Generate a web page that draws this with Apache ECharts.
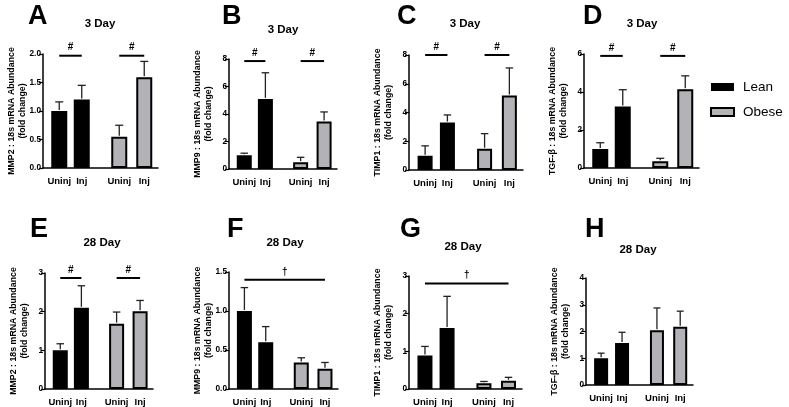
<!DOCTYPE html>
<html>
<head>
<meta charset="utf-8">
<script src="https://cdn.jsdelivr.net/npm/echarts@6/dist/echarts.min.js"></script>
<style>html,body{margin:0;padding:0;background:#fff}#chart{width:789px;height:407px}</style>
</head>
<body>
<div id="chart"></div>
<script>
// ---------- data ----------
const groupLabels = ['Uninj', 'Inj', 'Uninj', 'Inj'];
const groups = ['Lean', 'Lean', 'Obese', 'Obese'];
const panelLetters = ['A', 'B', 'C', 'D', 'E', 'F', 'G', 'H'];
const panelTitles = ['3 Day', '3 Day', '3 Day', '3 Day', '28 Day', '28 Day', '28 Day', '28 Day'];
const yTitles = [
  'MMP2 : 18s mRNA Abundance', 'MMP9 : 18s mRNA Abundance', 'TIMP1 : 18s mRNA Abundance', 'TGF-β : 18s mRNA Abundance',
  'MMP2 : 18s mRNA Abundance', 'MMP9 : 18s mRNA Abundance', 'TIMP1 : 18s mRNA Abundance', 'TGF-β : 18s mRNA Abundance'
];
const yUnit = '(fold change)';
// mean values [Lean Uninj, Lean Inj, Obese Uninj, Obese Inj]
const mmp2Day3 = [1.0, 1.2, 0.55, 1.59];
const mmp9Day3 = [1.0, 5.1, 0.5, 3.45];
const timp1Day3 = [1.0, 3.3, 1.48, 5.18];
const tgfbDay3 = [1.0, 3.24, 0.36, 4.15];
const mmp2Day28 = [1.0, 2.1, 1.69, 2.01];
const mmp9Day28 = [1.0, 0.6, 0.34, 0.26];
const timp1Day28 = [0.89, 1.62, 0.15, 0.22];
const tgfbDay28 = [1.0, 1.57, 2.05, 2.18];
// upper end of error bars (mean + SEM)
const mmp2Day3Err = [1.16, 1.45, 0.75, 1.87];
const mmp9Day3Err = [1.15, 7.0, 0.85, 4.15];
const timp1Day3Err = [1.68, 3.83, 2.53, 7.1];
const tgfbDay3Err = [1.33, 4.12, 0.51, 4.85];
const mmp2Day28Err = [1.17, 2.67, 1.99, 2.29];
const mmp9Day28Err = [1.3, 0.8, 0.4, 0.34];
const timp1Day28Err = [1.13, 2.46, 0.2, 0.31];
const tgfbDay28Err = [1.19, 1.97, 2.88, 2.76];
// y axis ranges
const yMax = [2, 8, 8, 6, 3, 1.5, 3, 4];
const yStep = [0.5, 2, 2, 2, 1, 0.5, 1, 1];
const yDecimals = [1, 0, 0, 0, 0, 1, 0, 0];
// significance brackets: [fromBar, toBar, yLevel, symbol]
const sigA = [[0, 1, 1.97, '#'], [2, 3, 1.97, '#']];
const sigB = [[0, 1, 7.85, '#'], [2, 3, 7.85, '#']];
const sigC = [[0, 1, 8.0, '#'], [2, 3, 8.0, '#']];
const sigD = [[0, 1, 5.9, '#'], [2, 3, 5.9, '#']];
const sigE = [[0, 1, 2.87, '#'], [2, 3, 2.87, '#']];
const sigF = [[0, 3, 1.4, '†']];
const sigG = [[0, 3, 2.8, '†']];
const sigH = [];

const means = [mmp2Day3, mmp9Day3, timp1Day3, tgfbDay3, mmp2Day28, mmp9Day28, timp1Day28, tgfbDay28];
const errs = [mmp2Day3Err, mmp9Day3Err, timp1Day3Err, tgfbDay3Err, mmp2Day28Err, mmp9Day28Err, timp1Day28Err, tgfbDay28Err];
const sigs = [sigA, sigB, sigC, sigD, sigE, sigF, sigG, sigH];

// ---------- layout ----------
const grids = [
  {left: 43, top: 54, width: 115, height: 114},
  {left: 229, top: 59, width: 108, height: 110},
  {left: 409, top: 55, width: 114, height: 115},
  {left: 584, top: 54, width: 115, height: 114},
  {left: 45, top: 273, width: 108, height: 116},
  {left: 229, top: 272, width: 109, height: 117},
  {left: 409, top: 276, width: 113, height: 114},
  {left: 586, top: 278, width: 107, height: 107}
];
const letterPos = [[28, 15], [222, 15], [397, 15], [583, 15], [30, 228], [227, 228], [400, 228], [585, 228]];
const titlePos = [[100, 24], [283, 30], [465, 24], [642, 24], [102, 243], [285, 243], [463, 247], [638, 250]];
const NSLOT = 46;
const barSlots = [6, 15, 30, 40];

const FONT = 'Liberation Sans, Arial, sans-serif';
const LEAN = '#000000';
const OBESE = '#b3b3b7';

const slotNames = Array.from({length: NSLOT}, (_, i) => String(i));

const option = {
  animation: false,
  backgroundColor: '#fff',
  textStyle: {fontFamily: FONT},
  grid: [], xAxis: [], yAxis: [], series: [],
  legend: {
    orient: 'vertical', left: 710, top: 80, padding: 0, itemGap: 11, itemWidth: 23, itemHeight: 8,
    icon: 'rect',
    textStyle: {fontFamily: FONT, fontSize: 13.5, color: '#000', padding: [0, 0, 0, 4]},
    data: [
      {name: 'Lean', itemStyle: {color: LEAN, borderColor: '#000', borderWidth: 0}},
      {name: 'Obese', itemStyle: {color: OBESE, borderColor: '#000', borderWidth: 2}}
    ]
  },
  graphic: []
};

for (let p = 0; p < 8; p++) {
  const g = grids[p];
  option.grid.push({left: g.left, top: g.top, width: g.width, height: g.height, containLabel: false});
  option.xAxis.push({
    type: 'category', gridIndex: p, data: slotNames,
    axisLine: {lineStyle: {color: '#000', width: 1.5}},
    axisTick: {alignWithLabel: true, length: 4, lineStyle: {color: '#000', width: 1.2},
      interval: (i) => barSlots.indexOf(i) >= 0},
    axisLabel: {interval: 0, margin: 8, fontSize: 9.5, fontWeight: 'bold', color: '#000', fontFamily: FONT,
      formatter: (v, i) => { const k = barSlots.indexOf(Number(v)); return k >= 0 ? groupLabels[k] : ''; }},
    splitLine: {show: false}
  });
  const dec = yDecimals[p];
  option.yAxis.push({
    type: 'value', gridIndex: p, min: 0, max: yMax[p], interval: yStep[p],
    name: yTitles[p] + '\n' + yUnit, nameLocation: 'middle', nameRotate: 90, nameGap: 15,
    nameMoveOverlap: false,
    nameTextStyle: {fontSize: 8.8, fontWeight: 'bold', color: '#000', fontFamily: FONT, lineHeight: 11},
    axisLine: {show: true, lineStyle: {color: '#000', width: 1.5}},
    axisTick: {show: true, length: 4, lineStyle: {color: '#000', width: 1.2}},
    axisLabel: {margin: 2, fontSize: 8.3, fontWeight: 'bold', color: '#000', fontFamily: FONT,
      formatter: (v) => v.toFixed(dec)},
    splitLine: {show: false}
  });
  const bw = Math.round(g.width * 0.135);
  const leanData = Array(NSLOT).fill('-');
  const obeseData = Array(NSLOT).fill('-');
  means[p].forEach((v, k) => { (groups[k] === 'Lean' ? leanData : obeseData)[barSlots[k]] = v; });
  option.series.push({
    name: 'Lean', type: 'bar', xAxisIndex: p, yAxisIndex: p, data: leanData,
    barWidth: bw, barGap: '-100%',
    itemStyle: {color: LEAN, borderColor: '#000', borderWidth: 1.5}, z: 2
  });
  option.series.push({
    name: 'Obese', type: 'bar', xAxisIndex: p, yAxisIndex: p, data: obeseData,
    barWidth: bw, barGap: '-100%',
    itemStyle: {color: OBESE, borderColor: '#000', borderWidth: 2}, z: 2
  });
  const capHalf = bw / 4;
  option.series.push({
    type: 'custom', xAxisIndex: p, yAxisIndex: p, z: 3, silent: true,
    data: means[p].map((v, k) => [barSlots[k], v, errs[p][k]]),
    encode: {x: 0, y: [1, 2]},
    renderItem: (params, api) => {
      const s = api.value(0), m = api.value(1), t = api.value(2);
      const a = api.coord([s, m]), b = api.coord([s, t]);
      const st = {stroke: '#222', lineWidth: 1.3};
      return {type: 'group', children: [
        {type: 'line', shape: {x1: a[0], y1: a[1] - 1, x2: b[0], y2: b[1]}, style: st},
        {type: 'line', shape: {x1: b[0] - capHalf, y1: b[1], x2: b[0] + capHalf, y2: b[1]}, style: st}
      ]};
    }
  });
  if (sigs[p].length) {
    option.series.push({
      type: 'custom', xAxisIndex: p, yAxisIndex: p, z: 4, silent: true, clip: false,
      data: sigs[p].map(d => [barSlots[d[0]], barSlots[d[1]], d[2], d[3]]),
      encode: {x: [0, 1], y: 2},
      renderItem: (params, api) => {
        const a = api.coord([api.value(0), api.value(2)]);
        const b = api.coord([api.value(1), api.value(2)]);
        const sym = sigs[p][params.dataIndex][3];
        return {type: 'group', children: [
          {type: 'line', shape: {x1: a[0], y1: a[1], x2: b[0], y2: b[1]}, style: {stroke: '#000', lineWidth: 2}},
          {type: 'text', x: (a[0] + b[0]) / 2, y: a[1] - 8,
            style: {text: sym, fontSize: 10, fontWeight: 'bold', fontFamily: FONT, fill: '#000', align: 'center', verticalAlign: 'middle'}}
        ]};
      }
    });
  }
  option.graphic.push({type: 'text', left: letterPos[p][0], top: letterPos[p][1] - 12,
    style: {text: panelLetters[p], fontSize: 27, fontWeight: 'bold', fontFamily: FONT, fill: '#000'}});
  option.graphic.push({type: 'text', x: titlePos[p][0], y: titlePos[p][1],
    style: {text: panelTitles[p], fontSize: 11.5, fontWeight: 'bold', fontFamily: FONT, fill: '#000', align: 'center', verticalAlign: 'middle'}});
}

const chart = echarts.init(document.getElementById('chart'), null, {renderer: 'canvas'});
chart.setOption(option);
</script>
</body>
</html>
